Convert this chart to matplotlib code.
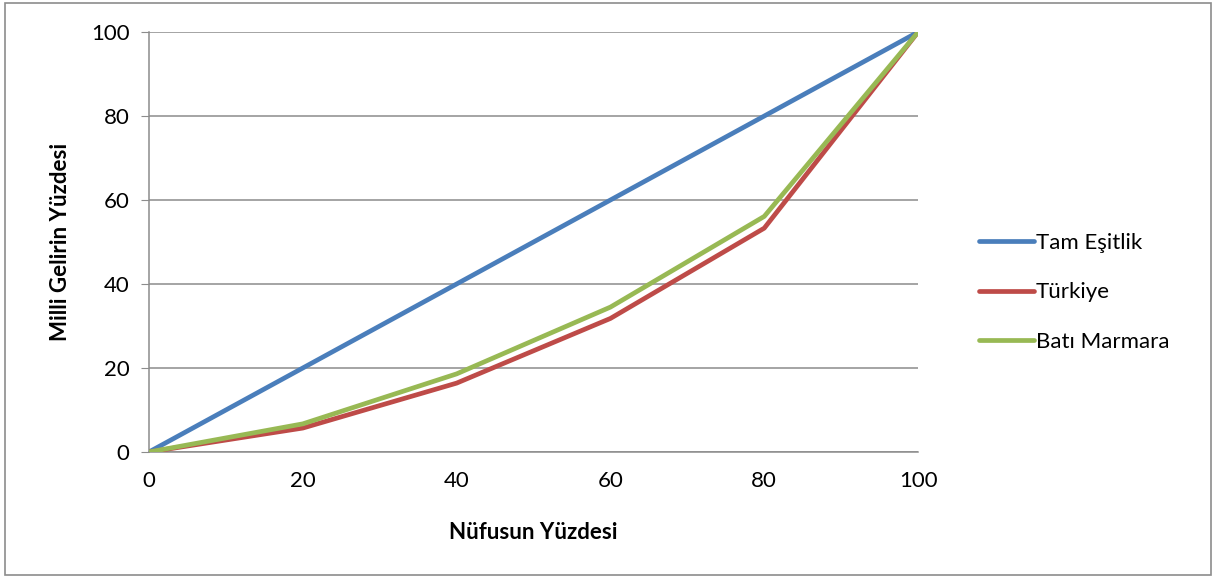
import matplotlib
matplotlib.use("Agg")
import matplotlib.pyplot as plt
from matplotlib.patches import Rectangle

plt.rcParams['font.family'] = ['Lato', 'DejaVu Sans']

# veri
nufus = [0, 20, 40, 60, 80, 100]
tam_esitlik = [0, 20, 40, 60, 80, 100]
turkiye = [0, 5.7, 16.4, 31.8, 53.3, 100]
bati_marmara = [0, 6.7, 18.6, 34.5, 56.1, 100]

seriler = [
    ("Tam Eşitlik", tam_esitlik, "#4a7ebb"),
    ("Türkiye", turkiye, "#be4b48"),
    ("Batı Marmara", bati_marmara, "#98b954"),
]

fig = plt.figure(figsize=(12.16, 5.78), dpi=100)
ax = fig.add_axes([0.1225, 0.218, 0.6325, 0.7266])

for name, vals, col in seriler:
    ax.plot(nufus, vals, color=col, lw=3.4, label=name, solid_capstyle='round', zorder=3)

ax.set_xlim(0, 100)
ax.set_ylim(0, 100)
ax.set_xticks(range(0, 101, 20))
ax.set_yticks(range(0, 101, 20))
ax.grid(axis='y', color='#8c8c8c', lw=1.1)
ax.set_axisbelow(True)
for s in ['top', 'right']:
    ax.spines[s].set_visible(False)
for s in ['left', 'bottom']:
    ax.spines[s].set_color('#8c8c8c')
    ax.spines[s].set_linewidth(1.1)
ax.tick_params(axis='y', length=6, color='#8c8c8c', labelsize=16, pad=8)
ax.tick_params(axis='x', length=0, labelsize=16, pad=14)

ax.set_xlabel("Nüfusun Yüzdesi", fontsize=16, fontweight='bold', labelpad=22)
ax.set_ylabel("Milli Gelirin Yüzdesi", fontsize=16, fontweight='bold', labelpad=14)

leg = ax.legend(loc='center left', bbox_to_anchor=(1.053, 0.38), frameon=False,
                fontsize=16, handlelength=2.5, handletextpad=0.05, labelspacing=1.32)

fig.patches.append(Rectangle((0.004, 0.005), 0.992, 0.99, transform=fig.transFigure,
                             fill=False, edgecolor='#8c8c8c', lw=1.2))

fig.savefig("out.png", dpi=100)
